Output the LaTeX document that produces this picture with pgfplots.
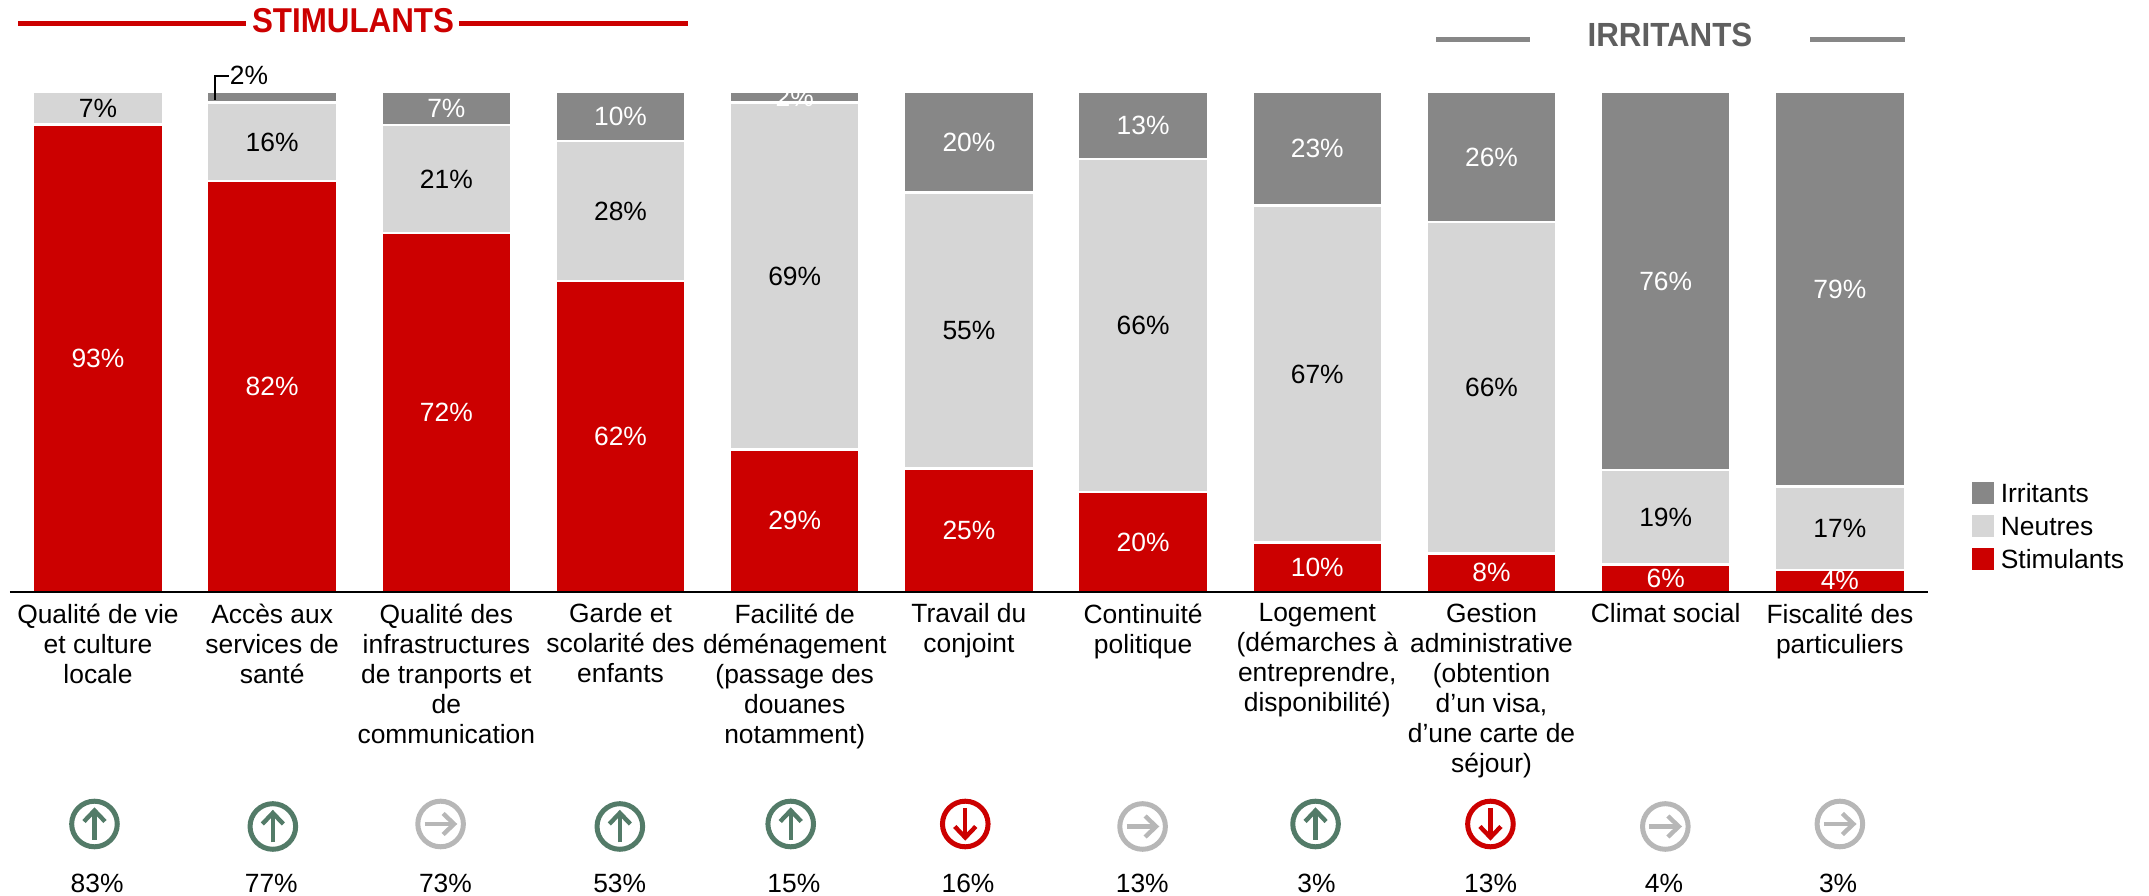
\documentclass[border=0pt]{standalone}
\usepackage{pgfplots}
\usepackage{fontspec}
\setmainfont{Liberation Sans}
\pgfplotsset{compat=1.18}
\definecolor{cred}{HTML}{CC0000}
\definecolor{cneu}{HTML}{D6D6D6}
\definecolor{cirr}{HTML}{878787}
\definecolor{cgrn}{HTML}{537B68}
\definecolor{cgry}{HTML}{B7B7B7}
\definecolor{cdark}{HTML}{5F5F5F}
\newcommand{\fs}{\fontsize{26.4}{30}\selectfont}
\pgfdeclareplotmark{icup}{%
  \pgfsetlinewidth{5pt}\pgfpathcircle{\pgfpointorigin}{22.8pt}\pgfusepathqstroke
  \pgfsetlinewidth{4.4pt}\pgfsetbuttcap
  \pgfpathmoveto{\pgfpoint{0pt}{-16pt}}\pgfpathlineto{\pgfpoint{0pt}{13pt}}\pgfusepathqstroke
  \pgfsetmiterjoin
  \pgfpathmoveto{\pgfpoint{-10.5pt}{2.5pt}}\pgfpathlineto{\pgfpoint{0pt}{13.5pt}}\pgfpathlineto{\pgfpoint{10.5pt}{2.5pt}}\pgfusepathqstroke}
\pgfdeclareplotmark{icdn}{%
  \pgfsetlinewidth{5pt}\pgfpathcircle{\pgfpointorigin}{22.8pt}\pgfusepathqstroke
  \pgfsetlinewidth{4.4pt}\pgfsetbuttcap
  \pgfpathmoveto{\pgfpoint{0pt}{16pt}}\pgfpathlineto{\pgfpoint{0pt}{-13pt}}\pgfusepathqstroke
  \pgfsetmiterjoin
  \pgfpathmoveto{\pgfpoint{-10.5pt}{-2.5pt}}\pgfpathlineto{\pgfpoint{0pt}{-13.5pt}}\pgfpathlineto{\pgfpoint{10.5pt}{-2.5pt}}\pgfusepathqstroke}
\pgfdeclareplotmark{icri}{%
  \pgfsetlinewidth{5pt}\pgfpathcircle{\pgfpointorigin}{22.8pt}\pgfusepathqstroke
  \pgfsetlinewidth{4.4pt}\pgfsetbuttcap
  \pgfpathmoveto{\pgfpoint{-16pt}{0pt}}\pgfpathlineto{\pgfpoint{13pt}{0pt}}\pgfusepathqstroke
  \pgfsetmiterjoin
  \pgfpathmoveto{\pgfpoint{2.5pt}{-10.5pt}}\pgfpathlineto{\pgfpoint{13.5pt}{0pt}}\pgfpathlineto{\pgfpoint{2.5pt}{10.5pt}}\pgfusepathqstroke}
\pgfplotsset{geom/.style={
  at={(10pt,304pt)},anchor=south west,scale only axis,width=1918pt,height=500pt,
  xmin=-0.505,xmax=10.506,ymin=0,ymax=100,clip=false}}
\begin{document}
\begin{tikzpicture}
\useasboundingbox (0,0) rectangle (2149pt,896pt);
\begin{axis}[geom,
  ybar stacked,bar width=130pt,
  axis x line=bottom,axis y line=none,
  x axis line style={-,line width=2.5pt,black},
  axis on top,
  ytick=\empty,
  xtick={0,1,2,3,4,5,6,7,8,9,10},
  major tick length=0pt,
  xticklabels={{Qualité de vie\\et culture\\locale},
    {Accès aux\\services de\\santé},
    {Qualité des\\infrastructures\\de tranports et\\de\\communication},
    {Garde et\\scolarité des\\enfants},
    {Facilité de\\déménagement\\(passage des\\douanes\\notamment)},
    {Travail du\\conjoint},
    {Continuité\\politique},
    {Logement\\(démarches à\\entreprendre,\\disponibilité)},
    {Gestion\\administrative\\(obtention\\d’un visa,\\d’une carte de\\séjour)},
    {Climat social},
    {Fiscalité des\\particuliers}},
  xticklabel style={align=center,font=\fs,anchor=north,yshift=-11.6pt,inner sep=0pt,text depth=0pt},
  reverse legend,
  legend style={at={(1.0230,0.22)},anchor=north west,draw=none,fill=none,
    font=\fs,inner sep=0pt,outer sep=0pt,row sep=11.1pt,
    /tikz/every even column/.append style={column sep=0pt},
    nodes={inner sep=0pt,anchor=west,text height=19pt,text depth=0pt}},
  legend image code/.code={\fill[#1,draw=none] (0pt,-11pt) rectangle (22pt,11pt);},
  legend cell align=left,
]
\addplot[fill=cred,draw=white,line width=2.5pt] coordinates
 {(0,93.5)(1,82.2)(2,71.8)(3,62.2)(4,28.5)(5,24.7)(6,20)(7,9.9)(8,7.7)(9,5.5)(10,4.4)};
\addlegendentry{\hspace{6.7pt}Stimulants}
\addplot[fill=cneu,draw=white,line width=2.5pt] coordinates
 {(0,6.5)(1,15.7)(2,21.6)(3,28)(4,69.4)(5,55.2)(6,66.6)(7,67.4)(8,66.3)(9,18.9)(10,16.7)};
\addlegendentry{\hspace{6.7pt}Neutres}
\addplot[fill=cirr,draw=white,line width=2.5pt] coordinates
 {(0,0)(1,2.1)(2,6.6)(3,9.8)(4,2.1)(5,20.1)(6,13.4)(7,22.7)(8,26)(9,75.6)(10,78.9)};
\addlegendentry{\hspace{6.7pt}Irritants}
\end{axis}
\begin{axis}[geom,hide axis,
  nodes near coords={\pgfplotspointmeta\%},
  point meta=explicit symbolic,
  nodes near coords style={anchor=center,font=\fs,inner sep=0pt},
]
\addplot[only marks,mark=none,nodes near coords style={text=white}] table[meta=l] {
x y l
0 46.75 93
1 41.1 82
2 35.9 72
3 31.1 62
4 14.25 29
5 12.35 25
6 10 20
7 4.95 10
8 3.85 8
9 2.75 6
10 2.4 4
};
\addplot[only marks,mark=none,nodes near coords style={text=black}] table[meta=l] {
x y l
0 96.75 7
1 90 16
2 82.6 21
3 76.2 28
4 63.2 69
5 52.3 55
6 53.3 66
7 43.6 67
8 40.85 66
9 14.95 19
10 12.75 17
};
\addplot[only marks,mark=none,nodes near coords style={text=white}] table[meta=l] {
x y l
2 96.7 7
3 95.1 10
4 99 2
5 89.95 20
6 93.3 13
7 88.65 23
8 87 26
9 62.2 76
10 60.5 79
};
\addplot[only marks,mark=none,nodes near coords style={text=black}] table[meta=l] {
x y l
0.8665 103.3 2
};
\addplot[only marks,mark=none,nodes near coords style={text=black}] table[meta=l] {
x y l
-0.005 -58.2 83
0.995 -58.2 77
1.995 -58.2 73
2.995 -58.2 53
3.995 -58.2 15
4.995 -58.2 16
5.995 -58.2 13
6.995 -58.2 3
7.995 -58.2 13
8.99 -58.2 4
9.99 -58.2 3
};
\addplot[black,line width=1.8pt,no markers,nodes near coords={}] coordinates {(0.674,98.4)(0.674,103.2)(0.7546,103.2)};
\addplot[only marks,mark=icup,draw=cgrn,mark options={draw=cgrn,fill=none},nodes near coords={}] coordinates
 {(-0.02,-46.4)(1.004,-46.9)(2.996,-46.9)(3.977,-46.4)(6.99,-46.4)};
\addplot[only marks,mark=icdn,draw=cred,mark options={draw=cred,fill=none},nodes near coords={}] coordinates
 {(4.979,-46.4)(7.994,-46.4)};
\addplot[only marks,mark=icri,draw=cgry,mark options={draw=cgry,fill=none},nodes near coords={}] coordinates
 {(1.967,-46.4)(5.997,-46.9)(8.998,-46.9)(10,-46.4)};
\end{axis}
% banner rules and headings
\draw[cred,line width=4.5pt] (18pt,872.7pt) -- (245.5pt,872.7pt);
\draw[cred,line width=4.5pt] (459pt,872.7pt) -- (688pt,872.7pt);
\node[cred,font=\fontsize{34.5}{36}\selectfont\bfseries,inner sep=0pt] at (353pt,875pt) {\scalebox{0.908}[1]{STIMULANTS}};
\draw[cirr,line width=4.5pt] (1436pt,856.7pt) -- (1530pt,856.7pt);
\draw[cirr,line width=4.5pt] (1810pt,856.7pt) -- (1904.5pt,856.7pt);
\node[cdark,font=\fontsize{33.5}{36}\selectfont\bfseries,inner sep=0pt] at (1670pt,861.5pt) {\scalebox{0.935}[1]{IRRITANTS}};
\end{tikzpicture}
\end{document}
